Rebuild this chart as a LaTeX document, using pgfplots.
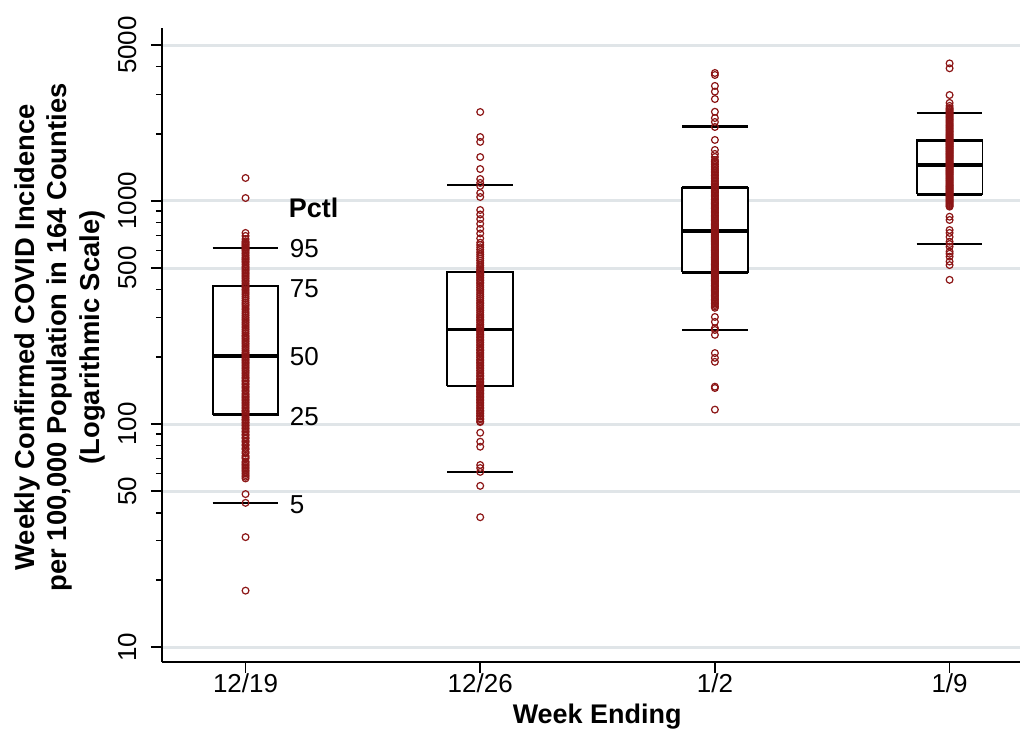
\documentclass[border=0pt]{standalone}
\usepackage{pgfplots}
\pgfplotsset{compat=1.18}
\usepackage{fontspec}
\setmainfont{Liberation Sans}
\definecolor{ptc}{RGB}{140,22,22}
\definecolor{gridc}{RGB}{224,229,232}
\begin{document}
\begin{tikzpicture}
\begin{axis}[
  scale only axis, width=429.5pt, height=317.5pt,
  ymode=log, ymin=8.566, ymax=5970,
  xmin=-0.357, xmax=3.298,
  axis x line*=bottom, axis y line*=left,
  axis line style={-, line width=0.75pt, black},
  xtick={0,1,2,3}, xticklabels={12/19,12/26,1/2,1/9},
  ytick={10,50,100,500,1000,5000}, yticklabels={10,50,100,500,1000,5000},
  minor ytick={20,30,40,60,70,80,90,200,300,400,600,700,800,900,2000,3000,4000},
  tick align=outside, major tick length=5.5pt, minor tick length=3pt,
  tick style={black, line width=0.75pt},
  ymajorgrids, grid style={gridc, line width=1.5pt},
  yticklabel style={xshift=-7pt, rotate=90, anchor=south, inner sep=0pt, font=\fontsize{13}{15}\selectfont},
  xticklabel style={anchor=north, inner sep=0pt, font=\fontsize{13}{15}\selectfont},
  ylabel={Weekly Confirmed COVID Incidence\\per 100,000 Population in 164 Counties\\(Logarithmic Scale)},
  ylabel style={at={(axis description cs:-0.1187,0.512)}, anchor=center, align=center, font=\fontsize{13.7}{16.25}\selectfont\bfseries},
  xlabel={Week Ending},
  xlabel style={at={(axis description cs:0.5076,-0.0976)}, anchor=base, font=\fontsize{13.5}{16}\selectfont\bfseries},
  clip=false,
]
% boxes
\addplot[black, line width=0.9pt, fill=white] coordinates {(-0.14,110) (0.14,110) (0.14,416) (-0.14,416) (-0.14,110)};
\addplot[black, line width=0.9pt, fill=white] coordinates {(0.86,148) (1.14,148) (1.14,481) (0.86,481) (0.86,148)};
\addplot[black, line width=0.9pt, fill=white] coordinates {(1.86,479) (2.14,479) (2.14,1147) (1.86,1147) (1.86,479)};
\addplot[black, line width=0.9pt, fill=white] coordinates {(2.86,1072) (3.14,1072) (3.14,1872) (2.86,1872) (2.86,1072)};
% quartile and median lines
\addplot[black, line width=1.3pt] coordinates {(-0.14,110) (0.14,110)};
\addplot[black, line width=1.3pt] coordinates {(-0.14,416) (0.14,416)};
\addplot[black, line width=1.6pt] coordinates {(-0.14,202) (0.14,202)};
\addplot[black, line width=1.3pt] coordinates {(0.86,148) (1.14,148)};
\addplot[black, line width=1.3pt] coordinates {(0.86,481) (1.14,481)};
\addplot[black, line width=1.6pt] coordinates {(0.86,265) (1.14,265)};
\addplot[black, line width=1.3pt] coordinates {(1.86,479) (2.14,479)};
\addplot[black, line width=1.3pt] coordinates {(1.86,1147) (2.14,1147)};
\addplot[black, line width=1.6pt] coordinates {(1.86,733) (2.14,733)};
\addplot[black, line width=1.3pt] coordinates {(2.86,1072) (3.14,1072)};
\addplot[black, line width=1.3pt] coordinates {(2.86,1872) (3.14,1872)};
\addplot[black, line width=1.6pt] coordinates {(2.86,1450) (3.14,1450)};
% 5th and 95th percentiles
\addplot[black, line width=1.2pt] coordinates {(-0.14,44.3) (0.14,44.3)};
\addplot[black, line width=1.2pt] coordinates {(-0.14,615) (0.14,615)};
\addplot[black, line width=1.2pt] coordinates {(0.86,61) (1.14,61)};
\addplot[black, line width=1.2pt] coordinates {(0.86,1183) (1.14,1183)};
\addplot[black, line width=1.2pt] coordinates {(1.86,264) (2.14,264)};
\addplot[black, line width=1.2pt] coordinates {(1.86,2154) (2.14,2154)};
\addplot[black, line width=1.2pt] coordinates {(2.86,641) (3.14,641)};
\addplot[black, line width=1.2pt] coordinates {(2.86,2473) (3.14,2473)};
% county points
\addplot[only marks, mark=o, mark size=1.7pt, ptc, mark options={line width=0.6pt}] coordinates {
(0,1268) (0,1031) (0,719) (0,697) (0,675)
(0,660) (0,652) (0,645) (0,637) (0,630) (0,622) (0,615) (0,607) (0,600) (0,590) (0,580) (0,570) (0,560) (0,552) (0,545) (0,537) (0,530) (0,520) (0,510) (0,502) (0,495) (0,487) (0,480) (0,472) (0,465) (0,457) (0,450) (0,442) (0,435) (0,427) (0,420) (0,415) (0,410) (0,402) (0,395) (0,387) (0,380) (0,372) (0,365) (0,357) (0,350) (0,344) (0,338) (0,331) (0,325) (0,318) (0,312) (0,306) (0,300) (0,295) (0,290) (0,285) (0,280) (0,275) (0,270) (0,265) (0,260) (0,255) (0,250) (0,246) (0,242) (0,238) (0,234) (0,230) (0,226) (0,222) (0,218) (0,214) (0,210) (0,207) (0,204) (0,201) (0,198) (0,195) (0,192) (0,189) (0,186) (0,183) (0,180) (0,177) (0,174) (0,171) (0,168) (0,165) (0,162) (0,160) (0,157) (0,155) (0,152) (0,150) (0,147) (0,145) (0,142) (0,140) (0,137) (0,135) (0,133) (0,131) (0,129) (0,127) (0,125) (0,123) (0,121) (0,119) (0,117) (0,115) (0,114) (0,112) (0,111) (0,109) (0,107) (0,105) (0,104) (0,102) (0,101) (0,99) (0,98) (0,96) (0,95) (0,93) (0,92) (0,90) (0,89) (0,87) (0,86) (0,84) (0,83) (0,81) (0,80) (0,78) (0,77) (0,75) (0,74) (0,72) (0,71) (0,70) (0,68) (0,67) (0,66) (0,65) (0,64) (0,63) (0,62) (0,61) (0,60) (0,59) (0,58) (0,57)
(0,48.5) (0,44.3) (0,31.1) (0,17.9)
};
\addplot[only marks, mark=o, mark size=1.7pt, ptc, mark options={line width=0.6pt}] coordinates {
(1,2506) (1,1936) (1,1841) (1,1574) (1,1391) (1,1255) (1,1205) (1,1168) (1,1086) (1,1042)
(1,911) (1,870) (1,830) (1,790) (1,750) (1,715) (1,680) (1,650) (1,635) (1,620) (1,605) (1,590) (1,577) (1,565) (1,552) (1,540) (1,527) (1,515) (1,505) (1,495) (1,488) (1,481) (1,475) (1,470) (1,462) (1,455) (1,447) (1,440) (1,432) (1,425) (1,417) (1,410) (1,402) (1,395) (1,387) (1,380) (1,373) (1,366) (1,359) (1,352) (1,346) (1,340) (1,334) (1,328) (1,322) (1,316) (1,310) (1,305) (1,300) (1,295) (1,290) (1,285) (1,280) (1,275) (1,271) (1,268) (1,264) (1,260) (1,256) (1,252) (1,248) (1,244) (1,240) (1,236) (1,232) (1,228) (1,224) (1,220) (1,216) (1,213) (1,209) (1,206) (1,202) (1,199) (1,195) (1,192) (1,189) (1,186) (1,183) (1,180) (1,177) (1,174) (1,171) (1,168) (1,165) (1,163) (1,160) (1,158) (1,155) (1,153) (1,151) (1,149) (1,147) (1,145) (1,143) (1,141) (1,139) (1,137) (1,135) (1,133) (1,131) (1,129) (1,127) (1,125) (1,123) (1,121) (1,119) (1,117) (1,115) (1,114) (1,112) (1,111) (1,109) (1,108) (1,106) (1,105) (1,103) (1,102)
(1,91.4) (1,83.3) (1,79.1) (1,65.5) (1,63.5) (1,61) (1,52.8) (1,38.2)
};
\addplot[only marks, mark=o, mark size=1.7pt, ptc, mark options={line width=0.6pt}] coordinates {
(2,3750) (2,3673) (2,3281) (2,3093) (2,2865) (2,2512) (2,2355) (2,2260) (2,2147) (2,1878) (2,1694) (2,1626) (2,1575)
(2,1527) (2,1503) (2,1480) (2,1455) (2,1430) (2,1405) (2,1380) (2,1360) (2,1340) (2,1320) (2,1300) (2,1280) (2,1260) (2,1240) (2,1220) (2,1202) (2,1185) (2,1166) (2,1147) (2,1133) (2,1120) (2,1105) (2,1090) (2,1075) (2,1060) (2,1045) (2,1030) (2,1015) (2,1000) (2,987) (2,975) (2,962) (2,950) (2,937) (2,925) (2,912) (2,900) (2,887) (2,875) (2,862) (2,850) (2,839) (2,828) (2,817) (2,806) (2,795) (2,785) (2,775) (2,765) (2,756) (2,748) (2,740) (2,733) (2,725) (2,718) (2,710) (2,703) (2,695) (2,688) (2,680) (2,673) (2,665) (2,658) (2,650) (2,643) (2,636) (2,629) (2,622) (2,615) (2,607) (2,600) (2,593) (2,586) (2,579) (2,572) (2,565) (2,558) (2,551) (2,545) (2,538) (2,532) (2,525) (2,519) (2,512) (2,506) (2,499) (2,493) (2,486) (2,480) (2,474) (2,468) (2,462) (2,457) (2,451) (2,446) (2,440) (2,435) (2,429) (2,424) (2,418) (2,413) (2,407) (2,402) (2,397) (2,392) (2,387) (2,382) (2,377) (2,372) (2,367) (2,362) (2,357) (2,352) (2,347) (2,342) (2,337) (2,332)
(2,302) (2,287) (2,269) (2,264) (2,251) (2,208) (2,198) (2,190) (2,147) (2,145) (2,116)
};
\addplot[only marks, mark=o, mark size=1.7pt, ptc, mark options={line width=0.6pt}] coordinates {
(3,4140) (3,3936) (3,2986) (3,2753) (3,2669)
(3,2614) (3,2587) (3,2560) (3,2530) (3,2500) (3,2470) (3,2440) (3,2410) (3,2380) (3,2350) (3,2320) (3,2290) (3,2260) (3,2230) (3,2200) (3,2175) (3,2150) (3,2125) (3,2100) (3,2075) (3,2050) (3,2025) (3,2000) (3,1980) (3,1960) (3,1940) (3,1920) (3,1900) (3,1880) (3,1860) (3,1840) (3,1825) (3,1810) (3,1795) (3,1780) (3,1765) (3,1750) (3,1735) (3,1720) (3,1705) (3,1690) (3,1675) (3,1660) (3,1645) (3,1630) (3,1615) (3,1600) (3,1585) (3,1570) (3,1555) (3,1540) (3,1525) (3,1510) (3,1495) (3,1480) (3,1467) (3,1455) (3,1442) (3,1430) (3,1417) (3,1405) (3,1392) (3,1380) (3,1367) (3,1355) (3,1342) (3,1330) (3,1317) (3,1305) (3,1292) (3,1280) (3,1267) (3,1255) (3,1242) (3,1230) (3,1217) (3,1205) (3,1192) (3,1180) (3,1170) (3,1160) (3,1150) (3,1140) (3,1130) (3,1120) (3,1110) (3,1100) (3,1090) (3,1080) (3,1070) (3,1060) (3,1050) (3,1040) (3,1030) (3,1020) (3,1010) (3,1000) (3,990) (3,980) (3,970) (3,960) (3,951) (3,943)
(3,850) (3,822) (3,741) (3,719) (3,690) (3,657) (3,641) (3,624) (3,593) (3,580) (3,563) (3,535) (3,516) (3,443)
};
% percentile key
\node[anchor=west, inner sep=0pt, font=\fontsize{13.5}{16}\selectfont\bfseries] at (axis cs:0.183,930) {Pctl};
\node[anchor=west, inner sep=0pt, font=\fontsize{13}{15}\selectfont] at (axis cs:0.187,615) {95};
\node[anchor=west, inner sep=0pt, font=\fontsize{13}{15}\selectfont] at (axis cs:0.187,403) {75};
\node[anchor=west, inner sep=0pt, font=\fontsize{13}{15}\selectfont] at (axis cs:0.187,200) {50};
\node[anchor=west, inner sep=0pt, font=\fontsize{13}{15}\selectfont] at (axis cs:0.187,107.5) {25};
\node[anchor=west, inner sep=0pt, font=\fontsize{13}{15}\selectfont] at (axis cs:0.187,43.3) {5};
\end{axis}
\useasboundingbox (-81pt,-33.5pt) rectangle (429.5pt,331.5pt);
\end{tikzpicture}
\end{document}
